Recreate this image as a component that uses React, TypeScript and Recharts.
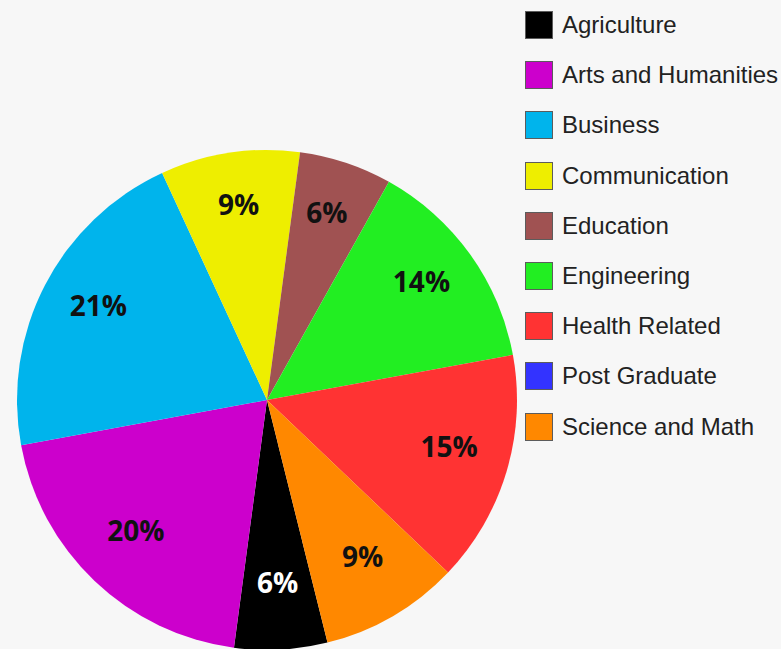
import React from 'react';
import { PieChart, Pie, Cell, Legend } from 'recharts';

const categories = [
    'Agriculture',
    'Arts and Humanities',
    'Business',
    'Communication',
    'Education',
    'Engineering',
    'Health Related',
    'Post Graduate',
    'Science and Math',
];
const shares = [6, 20, 21, 9, 6, 14, 15, 0, 9];
const colors = ['#000000', '#cc00cc', '#00b4ec', '#eeee00', '#a05252', '#22ee22', '#ff3333', '#3333ff', '#ff8800'];
const labelColors = ['#ffffff', '#111111', '#111111', '#111111', '#111111', '#111111', '#111111', '#111111', '#111111'];

const data = categories.map((name, i) => ({ name, value: shares[i] }));

const RADIAN = Math.PI / 180;

const renderLabel = (props: any) => {
    const { cx, cy, midAngle, outerRadius, percent, index } = props;
    if (!percent) return null;
    const r = outerRadius * 0.76;
    const x = cx + r * Math.cos(-midAngle * RADIAN);
    const y = cy + r * Math.sin(-midAngle * RADIAN) - 8;
    return (
        <text
            x={x}
            y={y}
            fill={labelColors[index]}
            textAnchor="middle"
            dominantBaseline="central"
            style={{ fontFamily: '"Open Sans", sans-serif', fontWeight: 700, fontSize: 28 }}
        >
            {`${Math.round(percent * 100)}%`}
        </text>
    );
};

const LegendBox = () => (
    <div style={{ fontFamily: '"Liberation Sans", Arial, sans-serif' }}>
        {categories.map((name, i) => (
            <div key={name} style={{ height: 50.2, display: 'flex', alignItems: 'center' }}>
                <div style={{
                    width: 26,
                    height: 26,
                    backgroundColor: colors[i],
                    border: '1px solid #5c5c5c',
                    marginRight: 9,
                }} />
                <span style={{ fontSize: 24, color: '#222222', whiteSpace: 'nowrap' }}>{name}</span>
            </div>
        ))}
    </div>
);

const App = () => {
    return (
        <div style={{
            position: 'absolute',
            left: 0,
            top: 0,
            width: 781,
            height: 649,
            overflow: 'hidden',
            backgroundColor: '#f7f7f7',
        }}>
            <PieChart width={781} height={649} margin={{ top: 0, right: 0, bottom: 0, left: 0 }}>
                <Pie
                    data={data}
                    dataKey="value"
                    nameKey="name"
                    cx={267}
                    cy={400}
                    outerRadius={250}
                    startAngle={-76}
                    endAngle={-436}
                    stroke="none"
                    label={renderLabel}
                    labelLine={false}
                    isAnimationActive={false}
                >
                    {data.map((d, i) => (
                        <Cell key={d.name} fill={colors[i]} />
                    ))}
                </Pie>
                <Legend
                    layout="vertical"
                    content={() => <LegendBox />}
                    wrapperStyle={{ left: 525, top: 0, width: 256 }}
                />
            </PieChart>
        </div>
    );
};

export default App;
